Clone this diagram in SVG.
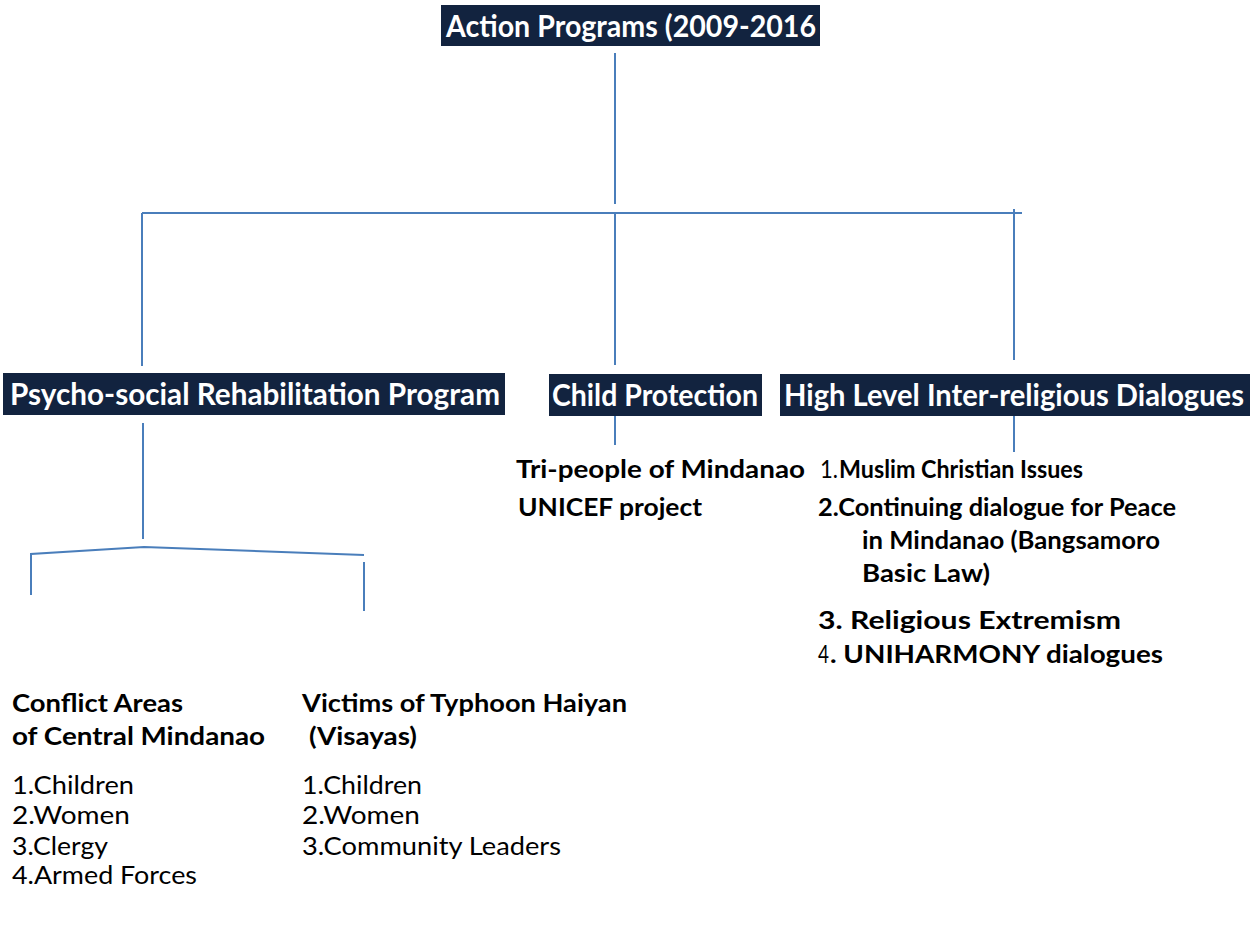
<svg xmlns="http://www.w3.org/2000/svg" width="1254" height="938" viewBox="0 0 1254 938">
<style>
  .box { fill: #12233f; }
  .hd { font-family: Lato, "Open Sans", "Liberation Sans", sans-serif; font-weight: bold; font-size: 30px; fill: #ffffff; }
  .t { font-family: Lato, "Open Sans", "Liberation Sans", sans-serif; font-size: 25px; fill: #000000; }
  .b { font-weight: bold; }
  .ln { stroke: #4a7ebb; stroke-width: 2; fill: none; }
</style>
<rect width="1254" height="938" fill="#ffffff"/>
<g id="connectors">
  <line class="ln" x1="615" y1="53" x2="615" y2="204"/>
  <line class="ln" x1="142" y1="213" x2="1022" y2="213"/>
  <line class="ln" x1="142" y1="213" x2="142" y2="366"/>
  <line class="ln" x1="615" y1="213" x2="615" y2="365"/>
  <line class="ln" x1="1014" y1="209" x2="1014" y2="360"/>
  <line class="ln" x1="615" y1="416" x2="615" y2="445"/>
  <line class="ln" x1="1014" y1="416" x2="1014" y2="452"/>
  <line class="ln" x1="143" y1="423" x2="143" y2="539"/>
  <polyline class="ln" points="31,595 31,554 144,547 364,555"/>
  <line class="ln" x1="364" y1="562" x2="364" y2="611"/>
</g>
<g id="node-action">
  <rect class="box" x="441" y="5" width="379" height="41"/>
  <text class="hd" x="446" y="37" textLength="370" lengthAdjust="spacingAndGlyphs">Action Programs (2009-2016</text>
</g>
<g id="node-psycho">
  <rect class="box" x="3" y="373" width="502" height="42"/>
  <text class="hd" x="10" y="405" textLength="490" lengthAdjust="spacingAndGlyphs">Psycho-social Rehabilitation Program</text>
</g>
<g id="node-child">
  <rect class="box" x="549" y="374" width="213" height="42"/>
  <text class="hd" x="552" y="406" textLength="206" lengthAdjust="spacingAndGlyphs">Child Protection</text>
</g>
<g id="node-dialogues">
  <rect class="box" x="780" y="374" width="470" height="42"/>
  <text class="hd" x="784" y="406" textLength="460" lengthAdjust="spacingAndGlyphs">High Level Inter-religious Dialogues</text>
</g>
<g id="node-tripeople">
  <text class="t b" x="516" y="478" textLength="289" lengthAdjust="spacingAndGlyphs">Tri-people of Mindanao</text>
  <text class="t b" x="518" y="516" textLength="184" lengthAdjust="spacingAndGlyphs">UNICEF project</text>
</g>
<g id="node-dialogue-list">
  <text class="t" x="820" y="478" textLength="18" lengthAdjust="spacingAndGlyphs">1.</text>
  <text class="t b" x="839" y="478" textLength="244" lengthAdjust="spacingAndGlyphs">Muslim Christian Issues</text>
  <text class="t b" x="818" y="516" textLength="358" lengthAdjust="spacingAndGlyphs">2.Continuing dialogue for Peace</text>
  <text class="t b" x="862" y="549" textLength="298" lengthAdjust="spacingAndGlyphs">in Mindanao (Bangsamoro</text>
  <text class="t b" x="862" y="582" textLength="128" lengthAdjust="spacingAndGlyphs">Basic Law)</text>
  <text class="t b" x="818" y="629" textLength="303" lengthAdjust="spacingAndGlyphs">3. Religious Extremism</text>
  <text class="t" x="818" y="663" textLength="11" lengthAdjust="spacingAndGlyphs">4</text>
  <text class="t b" x="830" y="663" textLength="333" lengthAdjust="spacingAndGlyphs">. UNIHARMONY dialogues</text>
</g>
<g id="node-conflict">
  <text class="t b" x="12" y="712" textLength="171" lengthAdjust="spacingAndGlyphs">Conflict Areas</text>
  <text class="t b" x="12" y="745" textLength="253" lengthAdjust="spacingAndGlyphs">of Central Mindanao</text>
  <text class="t" x="12" y="794" textLength="122" lengthAdjust="spacingAndGlyphs">1.Children</text>
  <text class="t" x="12" y="824" textLength="118" lengthAdjust="spacingAndGlyphs">2.Women</text>
  <text class="t" x="12" y="855" textLength="96" lengthAdjust="spacingAndGlyphs">3.Clergy</text>
  <text class="t" x="12" y="884" textLength="185" lengthAdjust="spacingAndGlyphs">4.Armed Forces</text>
</g>
<g id="node-haiyan">
  <text class="t b" x="302" y="712" textLength="325" lengthAdjust="spacingAndGlyphs">Victims of Typhoon Haiyan</text>
  <text class="t b" x="309" y="745" textLength="108" lengthAdjust="spacingAndGlyphs">(Visayas)</text>
  <text class="t" x="302" y="794" textLength="120" lengthAdjust="spacingAndGlyphs">1.Children</text>
  <text class="t" x="302" y="824" textLength="118" lengthAdjust="spacingAndGlyphs">2.Women</text>
  <text class="t" x="302" y="855" textLength="259" lengthAdjust="spacingAndGlyphs">3.Community Leaders</text>
</g>
</svg>
